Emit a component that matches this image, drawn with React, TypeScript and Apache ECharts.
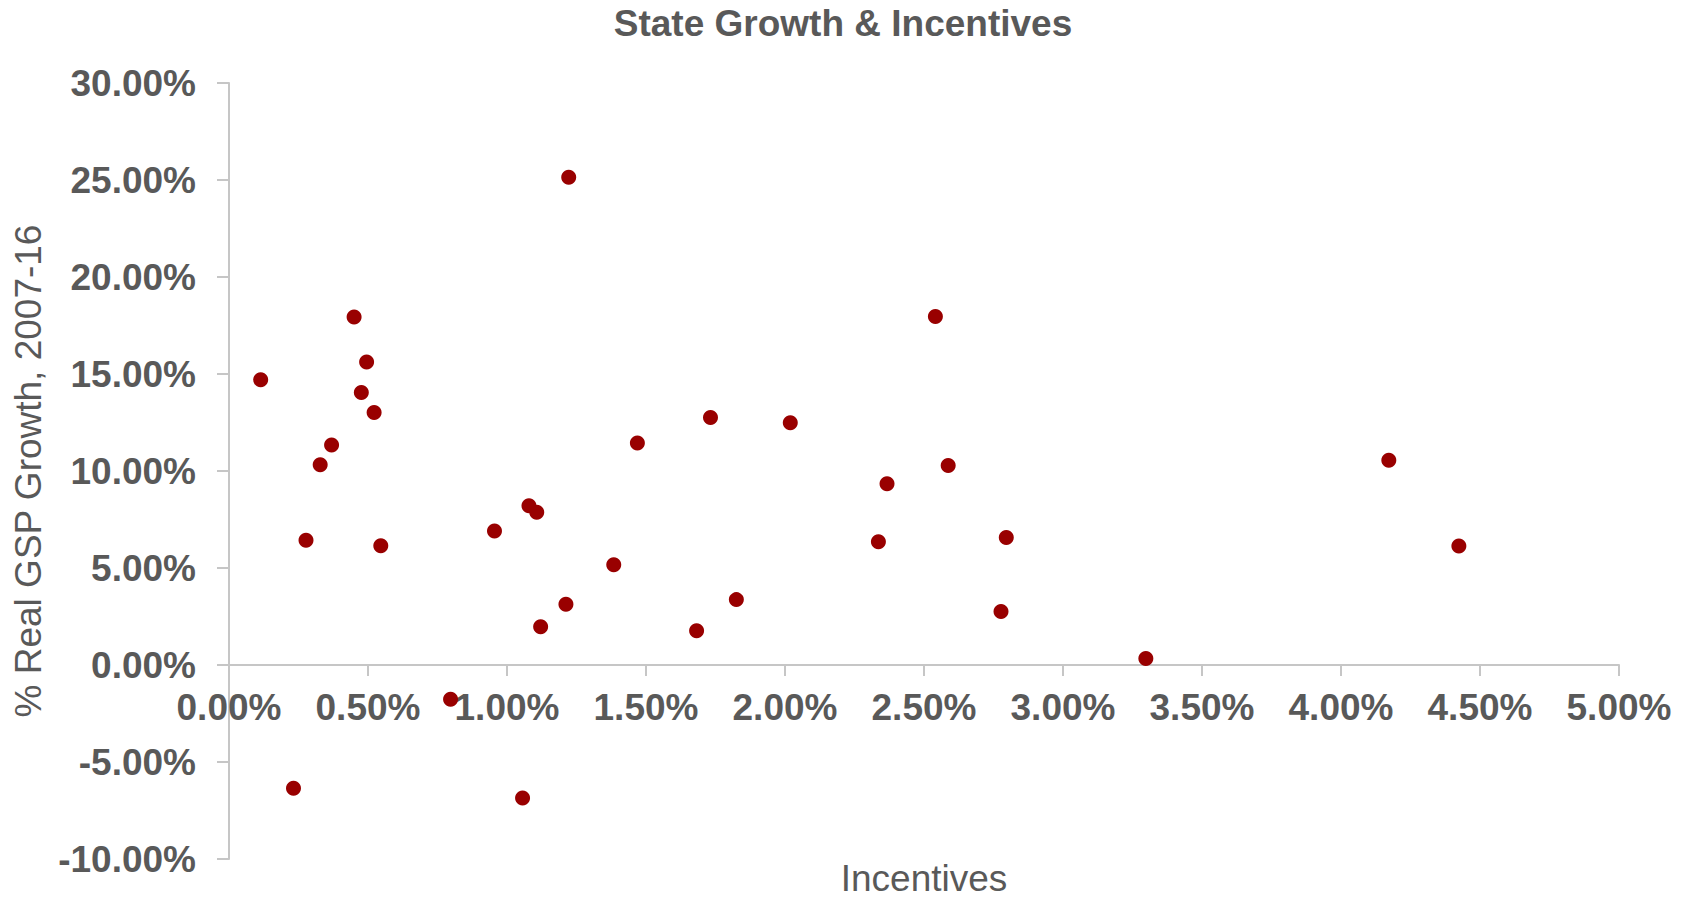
import React, { FC, useEffect, useRef } from "react";
import * as echarts from "echarts";

// incentives (% of x axis) and real GSP growth 2007-16 (%) per state
const incentives = [
  0.114, 0.232, 0.277, 0.328, 0.369, 0.45, 0.476, 0.495, 0.522, 0.546, 0.797,
  0.955, 1.056, 1.079, 1.107, 1.121, 1.212, 1.222, 1.384, 1.469, 1.682, 1.732,
  1.825, 2.019, 2.336, 2.367, 2.541, 2.587, 2.777, 2.796, 3.298, 4.172, 4.424,
];
const growth = [
  14.7, -6.35, 6.43, 10.32, 11.34, 17.94, 14.05, 15.62, 13.02, 6.15, -1.77,
  6.91, -6.85, 8.21, 7.87, 1.97, 3.13, 25.14, 5.17, 11.44, 1.77, 12.76, 3.37,
  12.49, 6.35, 9.34, 17.96, 10.28, 2.76, 6.57, 0.33, 10.55, 6.13,
];

const FONT = "'Liberation Sans', Arial, sans-serif";
const GREY = "#595959";
const LINE = "#c6c6c6";

const App: FC = () => {
  const ref = useRef<HTMLDivElement>(null);

  useEffect(() => {
    const myChart: any = echarts.init(ref.current, null, { renderer: "svg" });
    const points = incentives.map((x, i) => [x, growth[i]]);
    myChart.setOption({
      animation: false,
      backgroundColor: "#ffffff",
      title: {
        text: "State Growth & Incentives",
        left: "center",
        top: 0,
        textStyle: {
          fontFamily: FONT,
          fontSize: 37,
          fontWeight: "bold",
          color: GREY,
        },
      },
      grid: {
        left: 229,
        right: 67,
        top: 83,
        bottom: 43,
        containLabel: false,
        outerBoundsMode: "none",
      },
      xAxis: {
        type: "value",
        min: 0,
        max: 5,
        interval: 0.5,
        // the axis sits on y = 0, which is 194px above the plot's bottom
        offset: -194,
        name: "Incentives",
        nameLocation: "middle",
        nameGap: 195,
        nameTextStyle: { fontFamily: FONT, fontSize: 37, color: GREY },
        axisLine: { onZero: false, lineStyle: { color: LINE, width: 2 } },
        axisTick: { show: true, length: 11, lineStyle: { color: LINE, width: 2 } },
        splitLine: { show: false },
        axisLabel: {
          margin: 24,
          fontFamily: FONT,
          fontSize: 37,
          fontWeight: "bold",
          color: GREY,
          formatter: (v: number) => v.toFixed(2) + "%",
        },
      },
      yAxis: {
        type: "value",
        min: -10,
        max: 30,
        interval: 5,
        name: "% Real GSP Growth, 2007-16",
        nameLocation: "middle",
        nameRotate: 90,
        nameGap: 182,
        nameTextStyle: { fontFamily: FONT, fontSize: 37, color: GREY },
        axisLine: { show: true, onZero: false, lineStyle: { color: LINE, width: 2 } },
        axisTick: { show: true, length: 12, lineStyle: { color: LINE, width: 2 } },
        splitLine: { show: false },
        axisLabel: {
          margin: 33,
          fontFamily: FONT,
          fontSize: 37,
          fontWeight: "bold",
          color: GREY,
          formatter: (v: number) => v.toFixed(2) + "%",
        },
      },
      series: [
        {
          type: "scatter",
          data: points,
          symbol: "circle",
          symbolSize: 15,
          itemStyle: { color: "#990000", opacity: 1 },
        },
      ],
    });
    const onResize = () => myChart.resize();
    window.addEventListener("resize", onResize);
    return () => {
      window.removeEventListener("resize", onResize);
      myChart.dispose && myChart.dispose();
    };
  }, []);

  return <div ref={ref} style={{ width: 1686, height: 902, margin: -8 }}></div>;
};

export default App;
